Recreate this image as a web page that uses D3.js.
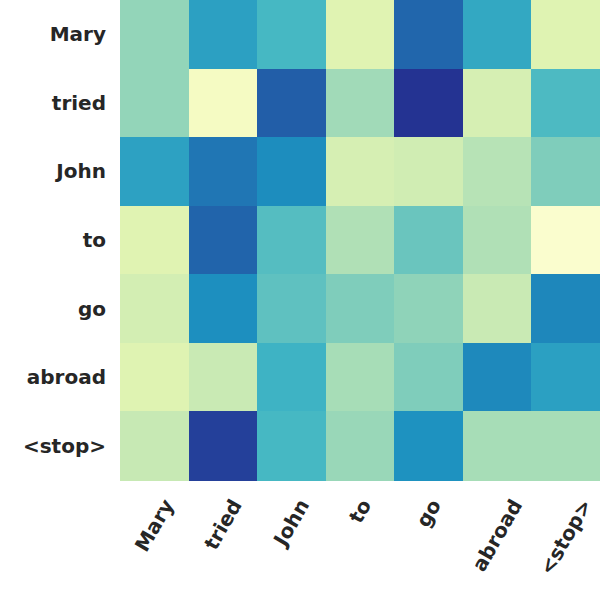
<!DOCTYPE html>
<html>
<head>
<meta charset="utf-8">
<script src="https://cdn.jsdelivr.net/npm/d3@7"></script>
<style>
  body { margin: 0; background: #fff; }
  text { font-family: "DejaVu Sans", sans-serif; font-weight: bold; fill: #262626; }
</style>
</head>
<body>
<div id="chart"></div>
<script>
// source words (rows) and output words (columns)
const rowWords = ["Mary", "tried", "John", "to", "go", "abroad", "<stop>"];
const colWords = ["Mary", "tried", "John", "to", "go", "abroad", "<stop>"];

// attention weights, one array per row
const rowMary   = [0.34, 0.573, 0.49, 0.168, 0.73, 0.547, 0.17];
const rowTried  = [0.34, 0.07, 0.75, 0.316, 0.88, 0.2, 0.476];
const rowJohn   = [0.57, 0.69, 0.635, 0.2, 0.22, 0.278, 0.375];
const rowTo     = [0.168, 0.735, 0.46, 0.29, 0.417, 0.29, 0.035];
const rowGo     = [0.21, 0.63, 0.44, 0.375, 0.347, 0.245, 0.65];
const rowAbroad = [0.17, 0.245, 0.51, 0.305, 0.375, 0.645, 0.575];
const rowStop   = [0.25, 0.84, 0.49, 0.33, 0.62, 0.305, 0.305];
const weights = [rowMary, rowTried, rowJohn, rowTo, rowGo, rowAbroad, rowStop];

const W = 600, H = 600;
const margin = {top: 0, right: 0, bottom: 120, left: 120};
const width = W - margin.left - margin.right;
const height = H - margin.top - margin.bottom;

const svg = d3.select("#chart").append("svg")
    .attr("width", W)
    .attr("height", H);

const g = svg.append("g")
    .attr("transform", `translate(${margin.left},${margin.top})`);

const x = d3.scaleBand().domain(colWords).range([0, width]);
const y = d3.scaleBand().domain(rowWords).range([0, height]);

// matplotlib style YlGnBu: straight segments between the 9 stops
const stops = d3.schemeYlGnBu[9];
const color = d3.scaleLinear()
    .domain(stops.map((_, i) => i / (stops.length - 1)))
    .range(stops);

const cells = [];
weights.forEach((row, i) => row.forEach((v, j) => cells.push({r: rowWords[i], c: colWords[j], v})));

g.selectAll("rect")
    .data(cells)
    .enter().append("rect")
    .attr("x", d => x(d.c))
    .attr("y", d => y(d.r))
    .attr("width", x.bandwidth() + 0.5)
    .attr("height", y.bandwidth() + 0.5)
    .attr("fill", d => color(d.v))
    .attr("shape-rendering", "crispEdges");

// row labels
g.append("g").selectAll("text")
    .data(rowWords)
    .enter().append("text")
    .attr("x", -14)
    .attr("y", d => y(d) + y.bandwidth() / 2)
    .attr("text-anchor", "end")
    .attr("dominant-baseline", "central")
    .style("font-size", "20px")
    .text(d => d);

// column labels, rotated 60 degrees, box centred under the column
const labelTop = height + 16;
const xl = g.append("g").selectAll("text")
    .data(colWords)
    .enter().append("text")
    .attr("text-anchor", "middle")
    .attr("dominant-baseline", "central")
    .style("font-size", "20px")
    .text(d => d);

xl.attr("transform", function(d) {
    const w = this.getComputedTextLength();
    const half = (w * Math.sin(Math.PI / 3) + 20 * Math.cos(Math.PI / 3)) / 2;
    return `translate(${x(d) + x.bandwidth() / 2},${labelTop + half}) rotate(-60)`;
});
</script>
</body>
</html>
